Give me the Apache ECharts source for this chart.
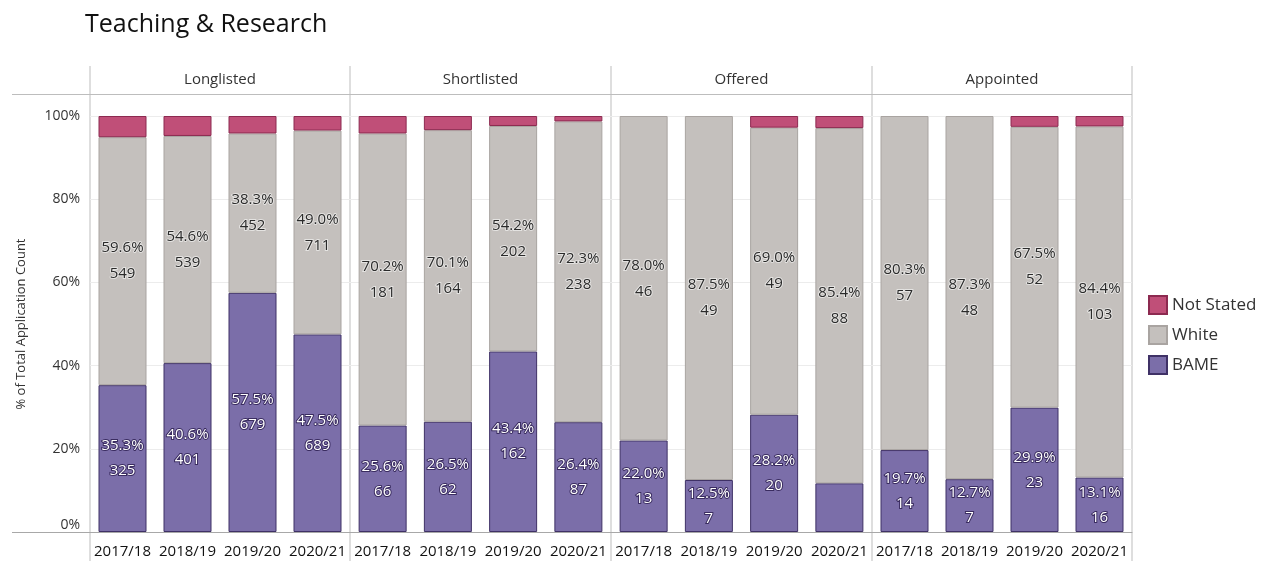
<!DOCTYPE html>
<html>
<head>
<meta charset="utf-8">
<title>Teaching & Research</title>
<script src="https://cdn.jsdelivr.net/npm/echarts@6/dist/echarts.min.js"></script>
<style>
  html, body { margin: 0; padding: 0; background: #fff; }
  #chart { width: 1263px; height: 561px; }
</style>
</head>
<body>
<div id="chart"></div>
<script>
// data
const years = ['2017/18', '2018/19', '2019/20', '2020/21'];
const stages = ['Longlisted', 'Shortlisted', 'Offered', 'Appointed'];
const yTicks = [0, 20, 40, 60, 80, 100];

const bamePct = [
  [35.3, 40.6, 57.5, 47.5],
  [25.6, 26.5, 43.4, 26.4],
  [22.0, 12.5, 28.2, 11.7],
  [19.7, 12.7, 29.9, 13.1]
];
const bameCount = [
  [325, 401, 679, 689],
  [66, 62, 162, 87],
  [13, 7, 20, null],   // last one has no label in the original
  [14, 7, 23, 16]
];
const whitePct = [
  [59.6, 54.6, 38.3, 49.0],
  [70.2, 70.1, 54.2, 72.3],
  [78.0, 87.5, 69.0, 85.4],
  [80.3, 87.3, 67.5, 84.4]
];
const whiteCount = [
  [549, 539, 452, 711],
  [181, 164, 202, 238],
  [46, 49, 49, 88],
  [57, 48, 52, 103]
];
const notStatedPct = [
  [5.1, 4.8, 4.2, 3.5],
  [4.2, 3.4, 2.4, 1.3],
  [0, 0, 2.8, 2.9],
  [0, 0, 2.6, 2.5]
];

const FONT = '"Open Sans", "Noto Sans", sans-serif';
const panelX = [90, 350, 611, 872, 1132];
const plotTop = 116, plotBottom = 532;

const chart = echarts.init(document.getElementById('chart'));

const grids = [], xAxes = [], yAxes = [], series = [], graphics = [];

stages.forEach((stage, i) => {
  grids.push({
    left: panelX[i],
    width: panelX[i + 1] - panelX[i],
    top: plotTop,
    height: plotBottom - plotTop
  });
  xAxes.push({
    type: 'category',
    gridIndex: i,
    data: years,
    axisTick: { show: false },
    axisLine: { show: true, lineStyle: { color: '#a8a8a8' } },
    axisLabel: {
      interval: 0,
      hideOverlap: false,
      color: '#111',
      fontSize: 15,
      fontFamily: FONT,
      margin: 12
    }
  });
  yAxes.push({
    type: 'value',
    gridIndex: i,
    min: 0,
    max: 100,
    interval: 20,
    axisLine: { show: false },
    axisTick: { show: false },
    axisLabel: {
      show: i === 0,
      formatter: v => yTicks.includes(v) ? v + '%' : '',
      color: '#333',
      fontSize: 14,
      fontFamily: FONT,
      margin: 10,
      verticalAlignMinLabel: 'bottom'
    },
    splitLine: { show: true, lineStyle: { color: '#ececec', width: 1 } },
    name: i === 0 ? '% of Total Application Count' : '',
    nameLocation: 'middle',
    nameGap: 62,
    nameTextStyle: { color: '#333', fontSize: 13, fontFamily: FONT }
  });

  series.push({
    name: 'BAME',
    type: 'bar',
    stack: 's' + i,
    xAxisIndex: i,
    yAxisIndex: i,
    barWidth: 48,
    data: bamePct[i],
    itemStyle: { color: '#7b6ea9', borderColor: '#3f3166', borderWidth: 1 },
    label: {
      show: true,
      position: 'inside',
      formatter: p => bameCount[i][p.dataIndex] == null ? ''
        : p.value.toFixed(1) + '%\n' + bameCount[i][p.dataIndex],
      color: '#fff',
      fontSize: 15,
      lineHeight: 25,
      fontFamily: FONT,
      textBorderColor: '#3a2c60',
      textBorderWidth: 2
    }
  });
  series.push({
    name: 'White',
    type: 'bar',
    stack: 's' + i,
    xAxisIndex: i,
    yAxisIndex: i,
    barWidth: 48,
    data: whitePct[i],
    itemStyle: { color: '#c4c0bd', borderColor: '#a9a4a1', borderWidth: 1 },
    label: {
      show: true,
      position: 'inside',
      formatter: p => p.value.toFixed(1) + '%\n' + whiteCount[i][p.dataIndex],
      color: '#2a2a2a',
      fontSize: 15,
      lineHeight: 26,
      fontFamily: FONT,
      textBorderColor: 'rgba(255,255,255,0.55)',
      textBorderWidth: 2
    }
  });
  series.push({
    name: 'Not Stated',
    type: 'bar',
    stack: 's' + i,
    xAxisIndex: i,
    yAxisIndex: i,
    barWidth: 48,
    // zero shares draw no segment
    data: notStatedPct[i].map(v => v === 0 ? '-' : v),
    itemStyle: { color: '#c04f78', borderColor: '#8c2a50', borderWidth: 1 }
  });

  // facet header
  graphics.push({
    type: 'text',
    x: (panelX[i] + panelX[i + 1]) / 2,
    y: 80,
    z: 10,
    style: {
      text: stage,
      fill: '#333',
      font: '15px ' + FONT,
      textAlign: 'center',
      textVerticalAlign: 'middle'
    }
  });
});

// facet divider lines
panelX.forEach(x => {
  graphics.push({
    type: 'line',
    z: 0,
    shape: { x1: x, y1: 66, x2: x, y2: 561 },
    style: { stroke: '#bdbdbd', lineWidth: 1 }
  });
});
graphics.push({
  type: 'line',
  z: 0,
  shape: { x1: 12, y1: 94.5, x2: 1132, y2: 94.5 },
  style: { stroke: '#bdbdbd', lineWidth: 1 }
});
graphics.push({
  type: 'line',
  z: 0,
  shape: { x1: 12, y1: 532.5, x2: 90, y2: 532.5 },
  style: { stroke: '#a8a8a8', lineWidth: 1 }
});

chart.setOption({
  animation: false,
  title: {
    text: 'Teaching & Research',
    left: 80,
    top: 7,
    textStyle: { color: '#111', fontSize: 25, fontWeight: 'normal', fontFamily: FONT }
  },
  legend: {
    orient: 'vertical',
    left: 1148,
    top: 295,
    padding: 0,
    data: ['Not Stated', 'White', 'BAME'],
    icon: 'rect',
    itemWidth: 18,
    itemHeight: 18,
    itemGap: 10,
    textStyle: { color: '#333', fontSize: 17, lineHeight: 18, fontFamily: FONT }
  },
  grid: grids,
  xAxis: xAxes,
  yAxis: yAxes,
  series: series,
  graphic: graphics
});
</script>
</body>
</html>
